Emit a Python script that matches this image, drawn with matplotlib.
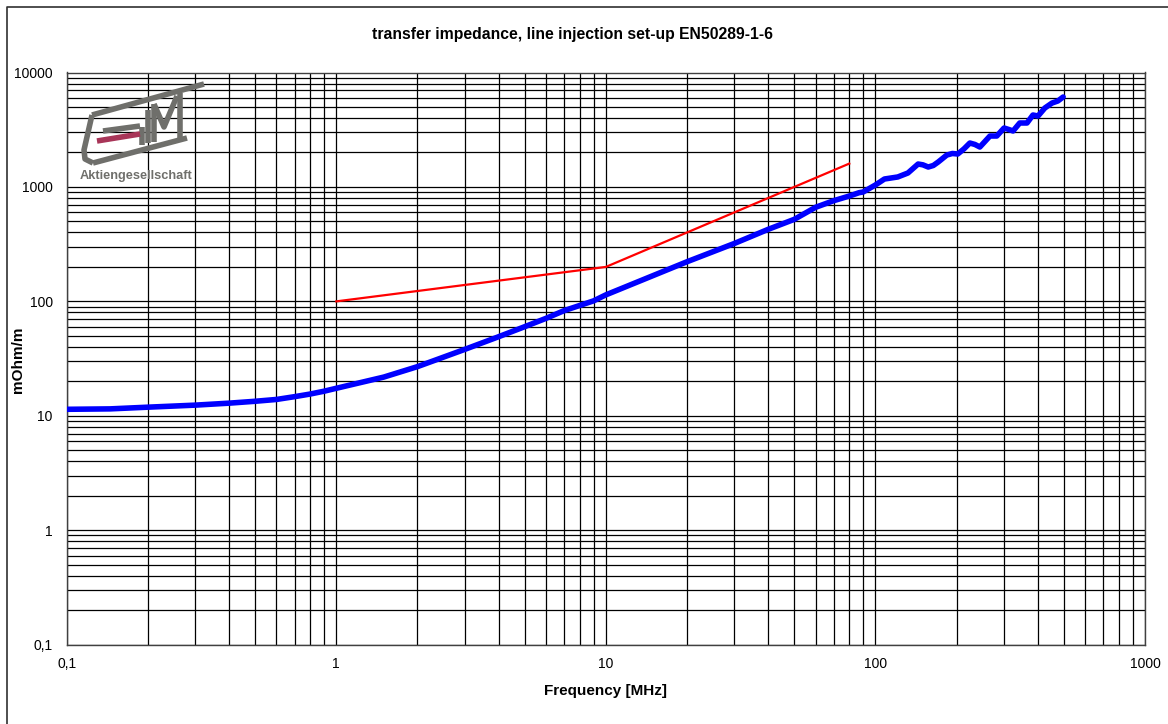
import matplotlib
matplotlib.use("Agg")
import matplotlib.pyplot as plt
from matplotlib.ticker import LogLocator, FixedLocator, NullFormatter, FuncFormatter

plt.rcParams['font.family'] = ['Liberation Sans', 'DejaVu Sans']

freq_mhz = [0.1, 0.145, 0.2, 0.3, 0.4, 0.5, 0.6, 0.7, 0.8, 0.9, 1, 1.5, 2, 3, 4, 5, 6, 7, 9, 10,
            20, 30, 40, 50, 60, 70, 80, 87, 90, 100, 108, 121, 132, 144, 150, 157, 164, 171, 184,
            193, 202, 213, 224, 234, 244, 255, 266, 282, 300, 312, 324, 343, 365, 384, 401, 425,
            452, 475, 497]
zt_mohm = [11.4, 11.5, 11.9, 12.4, 12.9, 13.4, 13.9, 14.7, 15.5, 16.4, 17.4, 21.8, 26.9, 38.1, 49.1,
           60.1, 71.1, 83, 101, 114, 222, 321, 426, 521, 664, 758, 833, 891, 903, 1040, 1173,
           1222, 1324, 1586, 1560, 1493, 1540, 1652, 1900, 1960, 1940, 2150, 2420, 2350, 2233,
           2500, 2786, 2786, 3273, 3180, 3083, 3620, 3620, 4253, 4166, 4895, 5410, 5636, 6108]

# limit line EN50289-1-6
limit_f = [1, 10, 80]
limit_z = [100, 200, 1600]

x_ticks = [0.1, 1, 10, 100, 1000]
y_ticks = [0.1, 1, 10, 100, 1000, 10000]


def comma_fmt(v, pos):
    s = ('%g' % v)
    return s.replace('.', ',')


fig = plt.figure(figsize=(11.68, 7.24), dpi=100)
ax = fig.add_axes([66.7 / 1168, 1 - 644.7 / 724, (1145 - 66.7) / 1168, (644.7 - 72.5) / 724])

ax.set_xscale('log')
ax.set_yscale('log')
ax.set_xlim(0.1, 1000)
ax.set_ylim(0.1, 10000)

ax.plot(limit_f, limit_z, color='#ff0000', lw=1.6, zorder=3)
ax.plot(freq_mhz, zt_mohm, color='#0000ff', lw=4, solid_capstyle='round',
        solid_joinstyle='round', zorder=4)

ax.xaxis.set_major_locator(FixedLocator(x_ticks))
ax.yaxis.set_major_locator(FixedLocator(y_ticks))
ax.xaxis.set_minor_locator(LogLocator(base=10, subs=range(2, 10), numticks=20))
ax.yaxis.set_minor_locator(LogLocator(base=10, subs=range(2, 10), numticks=20))
ax.xaxis.set_major_formatter(FuncFormatter(comma_fmt))
ax.yaxis.set_major_formatter(FuncFormatter(comma_fmt))
ax.xaxis.set_minor_formatter(NullFormatter())
ax.yaxis.set_minor_formatter(NullFormatter())
ax.grid(True, which='both', color='black', lw=0.9)
ax.set_axisbelow(True)
ax.tick_params(which='both', length=0, labelsize=10, colors='black')
ax.tick_params(axis='x', pad=9)
ax.tick_params(axis='y', pad=10)
for sp in ax.spines.values():
    sp.set_color('#404040')
    sp.set_linewidth(1)

fig.text(573 / 1168, 1 - 35 / 724, 'transfer impedance, line injection set-up EN50289-1-6',
         fontsize=11.3, fontweight='bold', ha='center', va='center')
ax.set_xlabel('Frequency [MHz]', fontsize=11, fontweight='bold')
ax.xaxis.set_label_coords(0.5, -(691 - 644.7) / (644.7 - 72.5))
ax.xaxis.label.set_va('center')
ax.set_ylabel('mOhm/m', fontsize=11, fontweight='bold')
ax.yaxis.set_label_coords(-(66.7 - 18) / (1145 - 66.7), 1 - (360 - 72.5) / (644.7 - 72.5))
ax.yaxis.label.set_va('center')

# overlay in pixel coordinates for the frame and the logo
ov = fig.add_axes([0, 0, 1, 1], zorder=10)
ov.set_xlim(0, 1168)
ov.set_ylim(724, 0)
ov.axis('off')
ov.patch.set_alpha(0)
ov.plot([7, 7, 1175], [740, 7, 7], color='#303030', lw=1.2)

grey = '#6f6f6b'
logo_lines = [
    ([92, 204], [115, 84]),
    ([92, 84, 85, 93], [115, 150, 159, 163]),
    ([93, 187], [163, 138]),
    ([103, 140], [131, 126]),
    ([142, 142], [127, 145]),
    ([148, 148], [110, 143]),
    ([154, 154], [104, 142]),
    ([154, 164, 177], [104, 127, 96]),
    ([180, 180], [93, 140]),
]
for xs, ys in logo_lines:
    ov.plot(xs, ys, color=grey, lw=4, solid_capstyle='butt', solid_joinstyle='round')
ov.plot([97, 140], [141, 134], color='#a83558', lw=4, solid_capstyle='butt')
ov.text(80, 176, 'Aktiengesellschaft', color=grey, fontsize=9.2, fontweight='bold',
        va='center', ha='left')

fig.savefig('out.png', dpi=100)
